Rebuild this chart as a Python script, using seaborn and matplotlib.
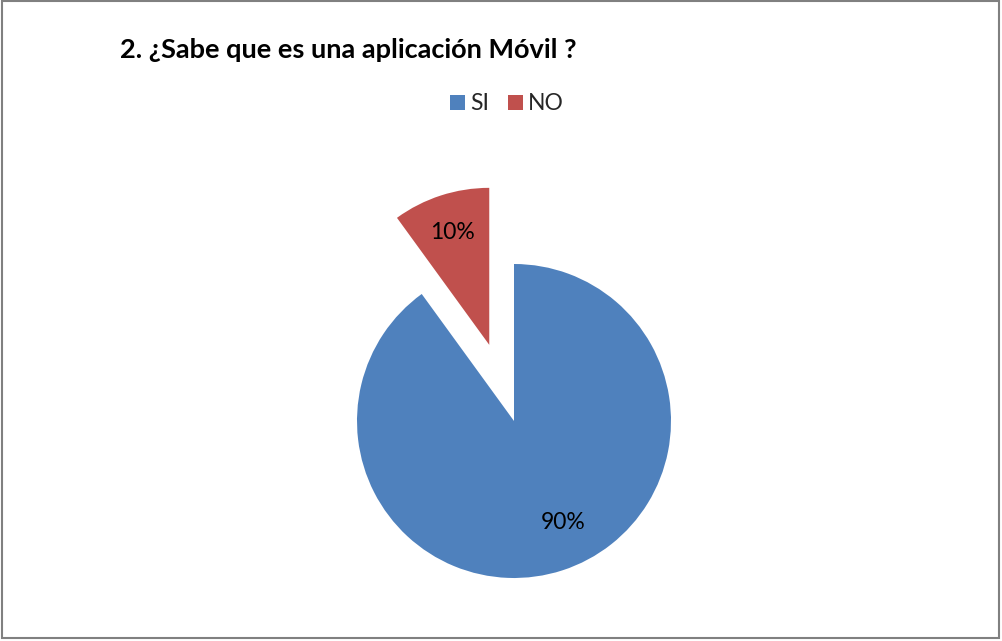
import matplotlib
matplotlib.use("Agg")
import matplotlib.pyplot as plt
import seaborn as sns
import numpy as np
from matplotlib.patches import Rectangle

# Survey answers
categories = ["SI", "NO"]
values = [90, 10]
title = "2. ¿Sabe que es una aplicación Móvil ?"

sns.set_theme(style="white")
plt.rcParams["font.family"] = ["Lato", "DejaVu Sans"]

colors = ["#4F81BD", "#C0504D"]

W, H = 1002, 641
fig = plt.figure(figsize=(W / 100, H / 100), dpi=100)
fig.patch.set_facecolor("white")

ax = fig.add_axes([0, 0, 1, 1])
wedges, texts, autotexts = ax.pie(
    values,
    colors=colors,
    startangle=90,
    counterclock=False,
    explode=[0, 0.51],
    autopct="%1.0f%%",
    pctdistance=0.75,
    radius=1.0,
    textprops=dict(fontsize=16.5, color="black"),
    wedgeprops=dict(linewidth=0),
)

# place the large-slice label a bit further round, like an office-style chart
ang = np.deg2rad(-64)
autotexts[0].set_position((0.72 * np.cos(ang), 0.72 * np.sin(ang)))

# pixel-based layout: pie centre and radius in the canvas
cx, cy, r = 514, H - 421, 157
ax.set_xlim(-cx / r, (W - cx) / r)
ax.set_ylim(-cy / r, (H - cy) / r)
ax.set_aspect("equal")
ax.axis("off")

fig.text(120 / W, 1 - 50 / H, title, fontsize=19.5, fontweight="bold",
         ha="left", va="center", color="black")

leg = fig.legend(wedges, categories, loc="center", bbox_to_anchor=(507 / W, 1 - 104 / H),
                 ncol=2, frameon=False, fontsize=16.5, handlelength=0.65, handleheight=0.65,
                 handletextpad=0.25, columnspacing=0.8)

fig.add_artist(Rectangle((0.0015, 0.004), 0.996, 0.994, transform=fig.transFigure,
                         fill=False, edgecolor="#808080", linewidth=1.5))

fig.savefig("out.png", dpi=100)
